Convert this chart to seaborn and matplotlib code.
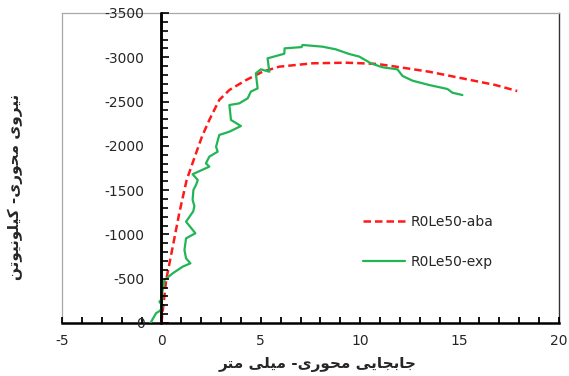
import numpy as np
import pandas as pd
import matplotlib
matplotlib.use("Agg")
import matplotlib.pyplot as plt
import seaborn as sns
from matplotlib.ticker import MultipleLocator

# ---------------- data ----------------
aba_x = [0, 0.24, 0.57, 0.9, 1.27, 1.74, 2.05, 2.41, 2.91, 3.42, 4.26, 5.09, 5.93,
         7.6, 9.28, 10.1, 10.85, 11.8, 13.47, 15.14, 16.8, 17.9]
aba_y = [0, -485, -861, -1242, -1614, -1916, -2110, -2292, -2518, -2631, -2743, -2837, -2894,
         -2932, -2939, -2932, -2925, -2894, -2837, -2762, -2687, -2619]

exp_x = [-0.55, -0.27, -0.07, 0.07, -0.1, 0.07, 0.03, 0.1, 0.15, 0.57, 1.07, 1.46, 1.24,
         1.16, 1.24, 1.71, 1.24, 1.6, 1.66, 1.57, 1.61, 1.74, 1.83, 1.57, 2.41, 2.24,
         2.41, 2.83, 2.75, 2.91, 3.42, 4.0, 3.5, 3.42, 3.92, 4.34, 4.5, 4.84, 4.75,
         5.0, 5.43, 5.34, 6.18, 6.2, 7.05, 7.1, 8.1, 8.77, 9.45, 9.95, 10.54, 11.12,
         11.87, 12.13, 12.63, 13.47, 14.39, 14.64, 15.14]
exp_y = [0, -110, -139, -184, -241, -279, -335, -410, -485, -561, -636, -674, -730,
         -824, -956, -1013, -1144, -1260, -1320, -1389, -1502, -1558, -1614, -1680, -1765, -1803,
         -1878, -1934, -1990, -2123, -2160, -2224, -2292, -2461, -2480, -2537, -2612, -2649, -2819,
         -2864, -2837, -2988, -3040, -3101, -3115, -3139, -3120, -3090, -3037, -3008, -2932, -2887,
         -2864, -2789, -2736, -2687, -2642, -2600, -2574]

series_names = ["R0Le50-aba", "R0Le50-exp"]
x_ticks = [-5, 0, 5, 10, 15, 20]
x_range = (-5, 20)
y_range = (0, -3500)
xlabel_fa = "جابجایی محوری- میلی متر"
ylabel_fa = "نیروی محوری- کیلونیوتن"

# ---------------- simple Persian shaping (presentation forms) ----------------
FORMS = {
    'ا': ('\uFE8D', '\uFE8E', None, None),
    'ب': ('\uFE8F', '\uFE90', '\uFE91', '\uFE92'),
    'ت': ('\uFE95', '\uFE96', '\uFE97', '\uFE98'),
    'ج': ('\uFE9D', '\uFE9E', '\uFE9F', '\uFEA0'),
    'ح': ('\uFEA1', '\uFEA2', '\uFEA3', '\uFEA4'),
    'ر': ('\uFEAD', '\uFEAE', None, None),
    'ل': ('\uFEDD', '\uFEDE', '\uFEDF', '\uFEE0'),
    'م': ('\uFEE1', '\uFEE2', '\uFEE3', '\uFEE4'),
    'ن': ('\uFEE5', '\uFEE6', '\uFEE7', '\uFEE8'),
    'و': ('\uFEED', '\uFEEE', None, None),
    'ی': ('\uFBFC', '\uFBFD', '\uFBFE', '\uFBFF'),
    'ک': ('\uFB8E', '\uFB8F', '\uFB90', '\uFB91'),
}


def shape(text):
    out = []
    n = len(text)
    for i, ch in enumerate(text):
        if ch not in FORMS:
            out.append(ch)
            continue
        prev = text[i - 1] if i > 0 else ''
        nxt = text[i + 1] if i < n - 1 else ''
        jp = prev in FORMS and FORMS[prev][2] is not None
        jn = nxt in FORMS and FORMS[ch][2] is not None
        iso, fin, ini, med = FORMS[ch]
        if jp and jn:
            out.append(med)
        elif jp:
            out.append(fin)
        elif jn:
            out.append(ini)
        else:
            out.append(iso)
    return ''.join(out)[::-1]


# ---------------- style ----------------
sns.set_style("white")
plt.rcParams['font.family'] = ['DejaVu Sans']
plt.rcParams['axes.unicode_minus'] = False

fig = plt.figure(figsize=(5.69, 3.76), dpi=100)
rect = [62 / 569, 1 - 323 / 376, (559 - 62) / 569, (323 - 13) / 376]

# frame
fax = fig.add_axes(rect)
fax.set_xticks([])
fax.set_yticks([])
for s in ['top', 'left']:
    fax.spines[s].set_color('#a8a8a8')
    fax.spines[s].set_linewidth(0.9)
fax.spines['right'].set_color('#333333')
fax.spines['right'].set_linewidth(1.0)
fax.spines['bottom'].set_visible(False)

# main data axes
ax = fig.add_axes(rect)
ax.patch.set_alpha(0)

df_aba = pd.DataFrame({"x": aba_x, "y": aba_y})
df_exp = pd.DataFrame({"x": exp_x, "y": exp_y})

sns.lineplot(data=df_aba, x="x", y="y", ax=ax, color="#ff1a1a", linewidth=1.8,
             sort=False, estimator=None, label=series_names[0], dashes=False, zorder=3)
ax.lines[-1].set_dashes((3, 1.6))
sns.lineplot(data=df_exp, x="x", y="y", ax=ax, color="#22b556", linewidth=1.6,
             sort=False, estimator=None, label=series_names[1], zorder=3)

ax.set_xlim(*x_range)
ax.set_ylim(*y_range)
ax.axvline(0, color='black', linewidth=1.8, zorder=2.5)

for s in ['left', 'top', 'right']:
    ax.spines[s].set_visible(False)
ax.spines['bottom'].set_edgecolor('black')
ax.spines['bottom'].set_linewidth(1.8)

ax.set_xticks(x_ticks)
ax.xaxis.set_minor_locator(MultipleLocator(1))
ax.tick_params(axis='x', which='both', bottom=True, direction='in', length=4, width=1.3,
               color='black', labelsize=10, pad=8)
ax.tick_params(axis='y', which='both', left=False, labelleft=False)
ax.set_ylabel('')

ax.set_xlabel(shape(xlabel_fa), fontsize=11, fontweight='bold', va='top')
ax.xaxis.set_label_coords(0.515, -0.11)

# y axis drawn at x = 0 (separate axes whose left edge sits at data x=0)
fig.canvas.draw()
x0_fig = fig.transFigure.inverted().transform(ax.transData.transform((0, 0)))[0]
yax = fig.add_axes([x0_fig, rect[1], rect[0] + rect[2] - x0_fig, rect[3]])
yax.set_zorder(5)
yax.patch.set_alpha(0)
yax.set_xticks([])
yax.set_ylim(*y_range)
for s in ['top', 'right', 'bottom']:
    yax.spines[s].set_visible(False)
yax.spines['left'].set_visible(True)
yax.spines['left'].set_color('black')
yax.spines['left'].set_linewidth(1.8)
yax.yaxis.set_major_locator(MultipleLocator(500))
yax.yaxis.set_minor_locator(MultipleLocator(100))
yax.tick_params(axis='y', which='both', left=True, direction='in', length=5, width=1.2,
                color='black', labelsize=10, pad=12)
yax.tick_params(axis='y', which='major', length=5.5)

fig.text(15 / 569, 1 - 187 / 376, shape(ylabel_fa), fontsize=11, fontweight='bold',
         rotation=90, ha='center', va='center')

leg = ax.legend(loc='center left', bbox_to_anchor=(363 / 569, 1 - 242 / 376),
                bbox_transform=fig.transFigure, frameon=False, fontsize=10,
                handlelength=3, handletextpad=0.4, labelspacing=1.85,
                borderpad=0, borderaxespad=0)

fig.savefig("out.png", dpi=100)
